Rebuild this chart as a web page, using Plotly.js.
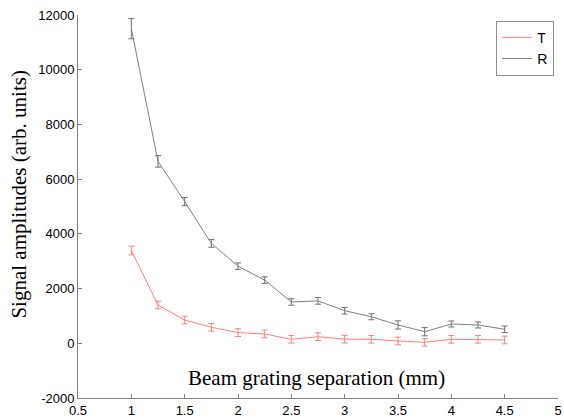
<!DOCTYPE html>
<html>
<head>
<meta charset="utf-8">
<script src="https://cdn.plot.ly/plotly-3.0.1.min.js"></script>
<style>html,body{margin:0;padding:0;background:#fff;}#chart{width:564px;height:420px;}</style>
</head>
<body>
<div id="chart"></div>
<script>
const separation = [1, 1.25, 1.5, 1.75, 2, 2.25, 2.5, 2.75, 3, 3.25, 3.5, 3.75, 4, 4.25, 4.5];
const tValues = [3390, 1400, 850, 585, 390, 340, 146, 241, 150, 146, 84, 37, 146, 146, 121];
const tErrors = [160, 140, 140, 140, 140, 140, 140, 140, 140, 140, 140, 140, 140, 140, 140];
const rValues = [11500, 6650, 5180, 3650, 2820, 2310, 1510, 1550, 1190, 970, 670, 424, 705, 670, 512];
const rErrors = [370, 210, 150, 140, 120, 120, 120, 120, 120, 110, 150, 150, 110, 110, 120];
const xTicks = [0.5, 1, 1.5, 2, 2.5, 3, 3.5, 4, 4.5, 5];
const xTickText = ['0.5', '1', '1.5', '2', '2.5', '3', '3.5', '4', '4.5', '5'];
const yTicks = [-2000, 0, 2000, 4000, 6000, 8000, 10000, 12000];
const yTickText = ['-2000', '0', '2000', '4000', '6000', '8000', '10000', '12000'];

const traces = [
  {x: separation, y: tValues, name: 'T', type: 'scatter', mode: 'lines',
   line: {color: '#ff8080', width: 1},
   error_y: {type: 'data', array: tErrors, visible: true, color: '#ff8080', thickness: 1, width: 3}},
  {x: separation, y: rValues, name: 'R', type: 'scatter', mode: 'lines',
   line: {color: '#808080', width: 1},
   error_y: {type: 'data', array: rErrors, visible: true, color: '#707070', thickness: 1, width: 3}}
];

const layout = {
  width: 564, height: 420,
  margin: {l: 78, r: 6, t: 15, b: 22, pad: 0},
  paper_bgcolor: '#fff', plot_bgcolor: '#fff',
  font: {family: 'Liberation Sans, Arial, sans-serif', size: 13, color: '#000'},
  showlegend: true,
  legend: {x: 0.992, y: 0.985, xanchor: 'right', yanchor: 'top',
    bordercolor: '#909090', borderwidth: 1, bgcolor: '#fff',
    font: {family: 'Liberation Sans, Arial, sans-serif', size: 14, color: '#000'},
    tracegroupgap: 0, itemwidth: 30},
  xaxis: {range: [0.5, 5], tickvals: xTicks, ticktext: xTickText,
    ticks: 'inside', ticklen: 4, tickcolor: '#808080',
    showline: true, linecolor: '#808080', linewidth: 1, showgrid: false, zeroline: false,
    tickfont: {family: 'Liberation Sans, Arial, sans-serif', size: 13, color: '#000'}},
  yaxis: {range: [-2000, 12000], tickvals: yTicks, ticktext: yTickText,
    ticks: 'inside', ticklen: 4, tickcolor: '#808080',
    showline: true, linecolor: '#808080', linewidth: 1, showgrid: false, zeroline: false,
    tickfont: {family: 'Liberation Sans, Arial, sans-serif', size: 13, color: '#000'}},
  annotations: [
    {text: 'Beam grating separation (mm)', xref: 'paper', yref: 'paper',
     x: 0.497, y: 0.052, xanchor: 'center', yanchor: 'middle', showarrow: false,
     font: {family: 'Liberation Serif, Times New Roman, serif', size: 21, color: '#000'}},
    {text: 'Signal amplitudes (arb. units)', xref: 'paper', yref: 'paper',
     x: -0.123, y: 0.531, xanchor: 'center', yanchor: 'middle', textangle: -90, showarrow: false,
     font: {family: 'Liberation Serif, Times New Roman, serif', size: 21, color: '#000'}}
  ]
};

Plotly.newPlot('chart', traces, layout, {displayModeBar: false, staticPlot: true});
</script>
</body>
</html>
